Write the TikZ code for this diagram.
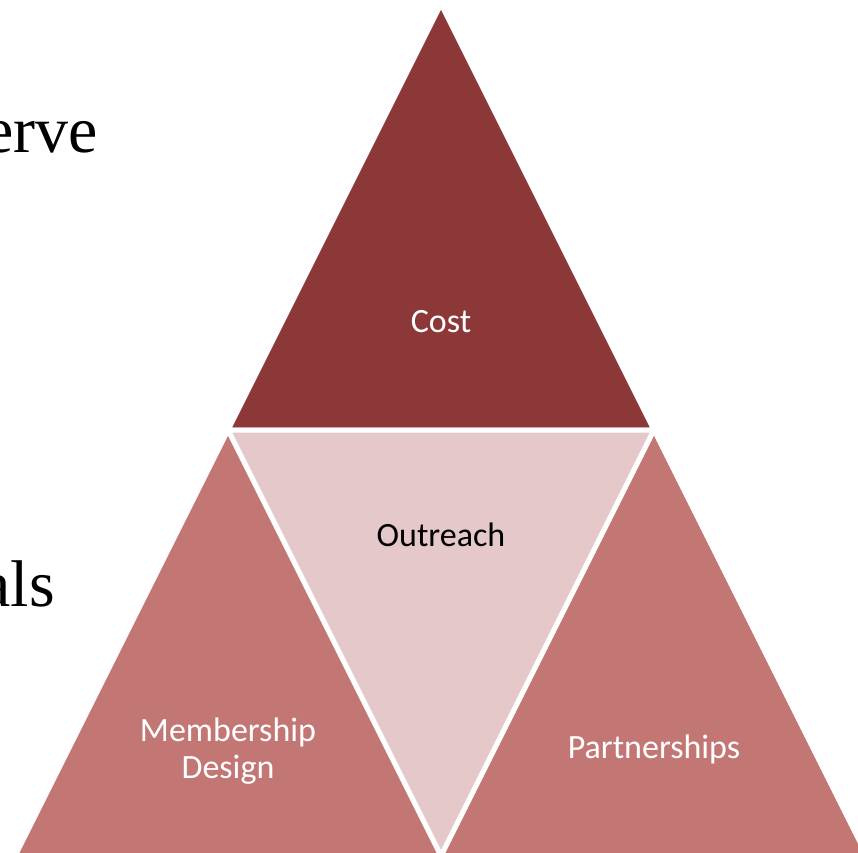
\documentclass[tikz,border=0pt]{standalone}
\usepackage{fontspec}
\setmainfont{Liberation Serif}
\newfontfamily\calib{Carlito}
\definecolor{topred}{RGB}{140,56,56}
\definecolor{sidered}{RGB}{195,119,116}
\definecolor{midpink}{RGB}{229,200,201}
\begin{document}
\begin{tikzpicture}[x=1pt,y=-1pt,
  seg/.style={draw=white,line width=5pt,line join=miter},
  lbl/.style={font=\calib\fontsize{34}{37}\selectfont,align=center},
  bgtext/.style={font=\fontsize{66}{72}\selectfont,anchor=base east,inner sep=0pt}]
\useasboundingbox (0,0) rectangle (858,852);
\begin{scope}
\clip (0,0) rectangle (858,852);
\coordinate (A) at (441,4);
\coordinate (ML) at (228,430);
\coordinate (MR) at (654,430);
\coordinate (BL) at (15,856);
\coordinate (BM) at (441,856);
\coordinate (BR) at (867,856);
\node[bgtext] (t1) at (98,152) {erve};
\node[bgtext] (t2) at (55,606) {als};
\fill[topred] (A) -- (ML) -- (MR) -- cycle;
\draw[seg] (A) -- (ML) -- (MR) -- cycle;
\fill[midpink] (ML) -- (MR) -- (BM) -- cycle;
\draw[seg] (ML) -- (MR) -- (BM) -- cycle;
\fill[sidered] (ML) -- (BL) -- (BM) -- cycle;
\draw[seg] (ML) -- (BL) -- (BM) -- cycle;
\fill[sidered] (MR) -- (BM) -- (BR) -- cycle;
\draw[seg] (MR) -- (BM) -- (BR) -- cycle;
\end{scope}
\node[lbl,text=white] (cost) at (441,322) {Cost};
\node[lbl,text=black] (out) at (441,535) {Outreach};
\node[lbl,text=white] (mem) at (228,751) {Membership\\Design};
\node[lbl,text=white] (par) at (654,749) {Partnerships};
\end{tikzpicture}
\end{document}
